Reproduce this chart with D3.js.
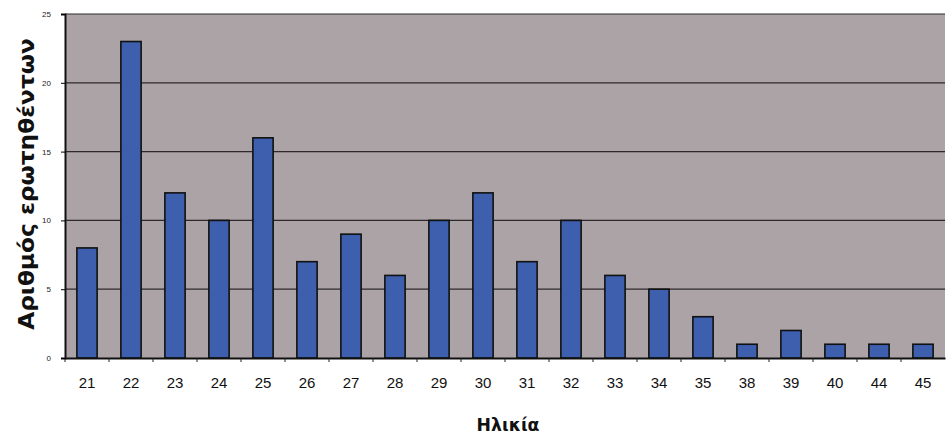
<!DOCTYPE html>
<html><head><meta charset="utf-8">
<script src="https://cdn.jsdelivr.net/npm/d3@7"></script>
<style>body{margin:0;background:#fff}svg{display:block}</style>
</head><body>
<svg id="c" width="948" height="438"></svg>
<script>
const categories = ["21","22","23","24","25","26","27","28","29","30","31","32","33","34","35","38","39","40","44","45"];
const values = [8,23,12,10,16,7,9,6,10,12,7,10,6,5,3,1,2,1,1,1];
const yTicks = [0,5,10,15,20,25];
const xTitle = "Ηλικία";
const yTitle = "Αριθμός ερωτηθέντων";

const svg = d3.select("#c");
const m = {l:65, r:3, t:14, b:80};
const W = 948, H = 438;
const font = "Liberation Sans, Arial, sans-serif";
const x = d3.scaleBand().domain(categories).range([m.l, W-m.r]).paddingInner(0.54).paddingOuter(0.27);
const y = d3.scaleLinear().domain([0,25]).range([H-m.b, m.t]);

svg.append("rect").attr("x",m.l).attr("y",m.t).attr("width",W-m.r-m.l).attr("height",H-m.b-m.t)
  .attr("fill","#aba3a6");
svg.append("g").selectAll("line").data(yTicks.slice(1)).join("line")
  .attr("x1",m.l).attr("x2",W-m.r).attr("y1",d=>y(d)).attr("y2",d=>y(d))
  .attr("stroke","#2e2a2c").attr("stroke-width",1.2);

svg.append("g").selectAll("rect").data(values).join("rect")
  .attr("x",(d,i)=>x(categories[i])).attr("y",d=>y(d))
  .attr("width",x.bandwidth()).attr("height",d=>y(0)-y(d))
  .attr("fill","#3d5fae").attr("stroke","#111").attr("stroke-width",1.6);

const xa = d3.axisBottom(x).tickSize(0).tickPadding(19);
const gx = svg.append("g").attr("transform",`translate(0,${y(0)})`).call(xa);
gx.select(".domain").attr("stroke","#111").attr("stroke-width",2);
gx.selectAll("text").attr("font-family",font).attr("font-size",15).attr("fill","#111");
gx.selectAll(".bt").data(categories.map((c,i)=>m.l + (W-m.r-m.l)/categories.length*i)).join("line")
  .attr("class","bt").attr("x1",d=>d).attr("x2",d=>d).attr("y1",0).attr("y2",4).attr("stroke","#222");

const ya = d3.axisLeft(y).tickValues(yTicks).tickSize(4).tickPadding(10);
const gy = svg.append("g").attr("transform",`translate(${m.l},0)`).call(ya);
gy.select(".domain").attr("stroke","#111").attr("stroke-width",2);
gy.selectAll("text").attr("font-family",font).attr("font-size",8).attr("fill","#222");

function stretchedText(cx, cy, rot, target, size, txt){
  const g = svg.append("g").attr("transform",`translate(${cx},${cy}) rotate(${rot})`);
  const t = g.append("text").attr("text-anchor","middle")
    .attr("font-family","DejaVu Sans, Verdana, sans-serif").attr("font-weight","bold")
    .attr("font-size",size).attr("fill","#111").text(txt);
  const w = t.node().getComputedTextLength();
  t.attr("transform",`scale(${target/w},1)`);
}
stretchedText(508, 431, 0, 63, 17, xTitle);
stretchedText(34, 184, -90, 292, 21, yTitle);
</script>
</body></html>
